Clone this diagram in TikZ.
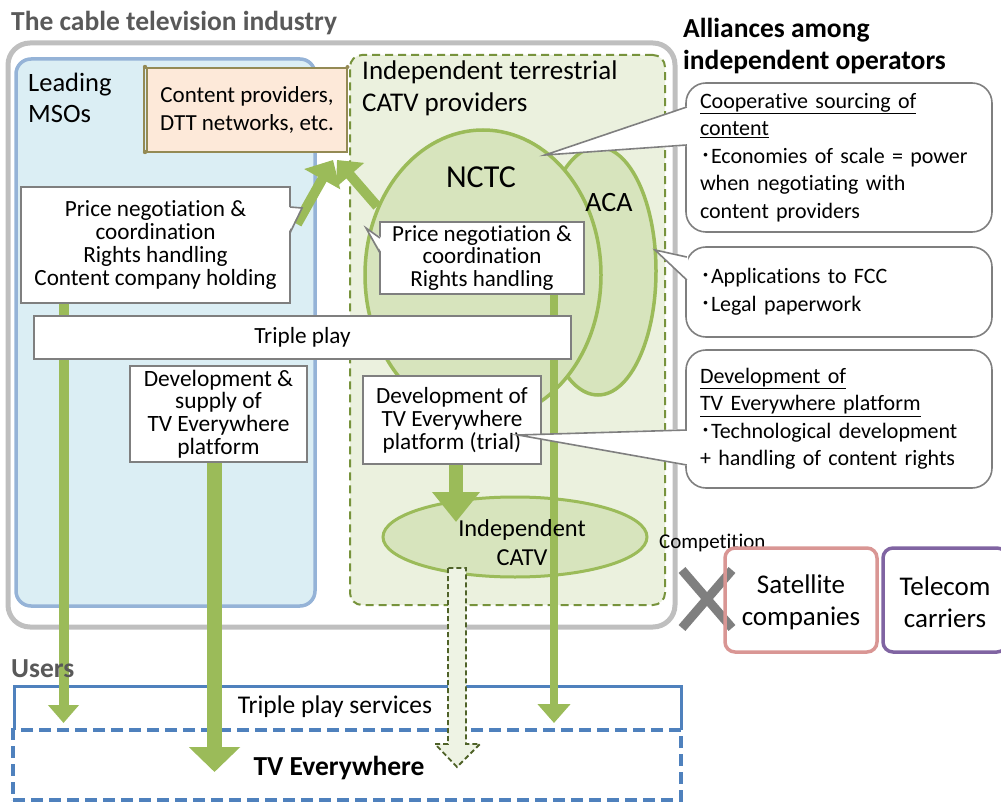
\documentclass[tikz,border=0pt]{standalone}
\usepackage{tikz}
\usepackage{fontspec}
\setmainfont{Carlito}[Ligatures=NoCommon]
\newfontfamily\cjkfont{Noto Sans CJK JP}
\usetikzlibrary{arrows.meta,shapes.geometric}
\newcommand{\setfs}[2]{\fontsize{#1}{#2}\selectfont}
\newcommand{\bdot}{{\cjkfont ･}}
\definecolor{outergray}{HTML}{BFBFBF}
\definecolor{msofill}{HTML}{DBEEF4}
\definecolor{msoborder}{HTML}{95B3D7}
\definecolor{indfill}{HTML}{EBF1DE}
\definecolor{indborder}{HTML}{77933C}
\definecolor{cpfill}{HTML}{FDE9D9}
\definecolor{cpborder}{HTML}{948A54}
\definecolor{gr}{HTML}{9BBB59}
\definecolor{nctcfill}{HTML}{D7E4BD}
\definecolor{boxgray}{HTML}{7F7F7F}
\definecolor{usersblue}{HTML}{4F81BD}
\definecolor{satborder}{HTML}{D99694}
\definecolor{telborder}{HTML}{8064A2}
\definecolor{titlegray}{HTML}{595959}
\definecolor{darkolive}{HTML}{4F6228}
\definecolor{hollowfill}{HTML}{EEF3E4}
\pgfdeclarelayer{bg}
\pgfdeclarelayer{arr}
\pgfsetlayers{bg,arr,main}
\begin{document}
\begin{tikzpicture}[x=1pt,y=-1pt,
  txt/.style={inner sep=0pt, align=center},
  wbox/.style={draw=boxgray, line width=1.6pt, fill=white, inner sep=0pt, align=center, font=\setfs{23.2}{23}},
  rcall/.style={draw=boxgray, line width=1.6pt, fill=white, rounded corners=20pt, inner xsep=14pt, inner ysep=0pt, text width=278pt, align=left, minimum width=306pt, font=\setfs{22}{27.5}},
  wedge/.style={draw=boxgray, line width=1.6pt, line join=miter},
  container/.style={inner sep=0pt},
  rivalbox/.style={line width=3.5pt, rounded corners=10pt, minimum width=#1, minimum height=104pt, inner sep=0pt},
  rivallab/.style={inner sep=0pt, align=center, font=\setfs{27}{32}},
]
\useasboundingbox (0,0) rectangle (1001,802);

% ---------- main layer: boxes and labels ----------
\node[txt, anchor=west, font=\setfs{27.5}{30}\bfseries, text=titlegray] (title) at (11,23) {The cable television industry};
\node[txt, anchor=west, align=left, font=\setfs{27.5}{32}\bfseries] (alli) at (683,46) {Alliances among\\independent operators};

\node[txt, anchor=west, align=left, font=\setfs{26.5}{31}] (msolab) at (28,97.5) {Leading\\MSOs};
\node[txt, anchor=west, align=left, font=\setfs{27}{32}] (indlab) at (362,88) {Independent terrestrial\\CATV providers};

\node[txt, font=\setfs{32}{32}] (nctclab) at (481,177) {NCTC};
\node[txt, font=\setfs{28}{28}] (acalab) at (609,203) {ACA};

% left callout
\node[wbox, minimum width=269pt, minimum height=116pt] (lcall) at (155.5,245) {Price negotiation \&\\coordination\\Rights handling\\Content company holding};
\fill[white] (288,207) -- (302,208) -- (288,233) -- cycle;
\draw[wedge] (290,207) -- (302,208) -- (290,233);

% NCTC callout
\node[wbox, minimum width=204pt, minimum height=72pt, font=\setfs{23}{22.5}] (ncall) at (482,258) {Price negotiation \&\\coordination\\Rights handling};
\fill[white] (382,238) -- (366,228) -- (382,253) -- cycle;
\draw[wedge] (380,238) -- (366,228) -- (380,253);

\node[wbox, minimum width=537pt, minimum height=43pt] (tp) at (302.5,337.5) {Triple play};
\node[wbox, minimum width=177pt, minimum height=96pt, font=\setfs{23.4}{22.6}] (dsup) at (218.5,414) {Development \&\\supply of\\TV Everywhere\\platform};
\node[wbox, minimum width=178pt, minimum height=88pt] (trial) at (452,420) {Development of\\TV Everywhere\\platform (trial)};

\node[txt, font=\setfs{24.4}{29}] (icatvlab) at (522,543) {Independent\\CATV};

% right callouts
\node[rcall, minimum height=149pt] (rc1) at (839,157.5) {\underline{Cooperative sourcing of}\\\underline{content}\\\bdot Economies of scale = power\\when negotiating with\\content providers};
\fill[white] (688,106) -- (545,155) -- (688,146) -- cycle;
\draw[wedge] (686.8,107) -- (545,155) -- (686.8,145);

\node[rcall, minimum height=90pt] (rc2) at (839,292) {\bdot Applications to FCC\\\bdot Legal paperwork};
\fill[white] (688,256) -- (655,250) -- (688,281) -- cycle;
\draw[wedge] (686.8,257) -- (655,250) -- (686.8,280);

\node[rcall, minimum height=138pt] (rc3) at (839,419) {\underline{Development of}\\\underline{TV Everywhere platform}\\\bdot Technological development\\+ handling of content rights};
\fill[white] (688,429) -- (518,435) -- (688,466) -- cycle;
\draw[wedge] (686.8,430) -- (518,435) -- (686.8,465);

% competition
\node[txt, anchor=west, font=\setfs{21}{21}] (comp) at (659,543) {Competition};
\draw[boxgray, line width=9pt] (682,570) -- (732,628) (732,570) -- (682,628);
\node[rivalbox=152pt, draw=satborder] (sat) at (801,600) {};
\node[rivallab] (satlab) at (801,602) {Satellite\\companies};
\node[rivalbox=124pt, draw=telborder] (tel) at (945,600) {};
\node[rivallab] (tellab) at (945,602) {Telecom\\carriers};

% users
\node[txt, anchor=west, font=\setfs{27.5}{27.5}\bfseries, text=titlegray] (users) at (11,669) {Users};
\node[txt, font=\setfs{25.5}{25.5}] (tpslab) at (335,707) {Triple play services};
\node[txt, font=\setfs{27.5}{27.5}\bfseries] (tvelab) at (339,768) {TV Everywhere};

% ---------- background layer ----------
\begin{pgfonlayer}{bg}
\node[container, draw=outergray, line width=5pt, rounded corners=22pt, minimum width=667pt, minimum height=584pt] (industry) at (341.5,335) {};
\node[container, draw=msoborder, fill=msofill, line width=3.5pt, rounded corners=15pt, minimum width=299pt, minimum height=547pt] (mso) at (165.5,332.5) {};
\node[container, draw=indborder, fill=indfill, line width=2pt, dash pattern=on 8pt off 5pt, rounded corners=12pt, minimum width=315pt, minimum height=550pt] (indep) at (507.5,330) {};
\node[container, draw=cpborder, fill=cpfill, line width=2pt, minimum width=200pt, minimum height=84pt, align=center, font=\setfs{23}{28}] (cp) at (247,110) {Content providers,\\DTT networks, etc.};
\draw[cpborder, line width=2pt] (143.5,67) -- (143.5,152);
\fill[cpborder] (145,67) circle (2.2pt) (145,152) circle (2.2pt) (347.5,67) circle (2pt);
\node[container, ellipse, draw=gr, fill=nctcfill, line width=3.5pt, minimum width=116pt, minimum height=248pt] (aca) at (598,271) {};
\node[container, ellipse, draw=gr, fill=nctcfill, line width=3.5pt, minimum width=236pt, minimum height=290pt] (nctc) at (483,275) {};
\node[container, ellipse, draw=gr, fill=nctcfill, line width=3pt, minimum width=264pt, minimum height=80pt] (icatv) at (515,537) {};
\node[container, minimum width=666pt, minimum height=43pt] (tps) at (348,708.5) {};
\draw[usersblue, line width=3pt] (tps.south west) -- (tps.north west) -- (tps.north east) -- (tps.south east);
\node[container, draw=usersblue, line width=3.5pt, dash pattern=on 12pt off 6pt, minimum width=668pt, minimum height=70pt] (tve) at (347,765) {};
\end{pgfonlayer}

% ---------- arrow layer ----------
\begin{pgfonlayer}{arr}
\coordinate (a1end) at (63.5,723);
\coordinate (a2end) at (214.5,772);
\coordinate (a3end) at (554,723);
\coordinate (a4end) at (456,522);
\coordinate (lstart) at (297,224);
\coordinate (cptipL) at (333,160);
\coordinate (cptipR) at (337,160);
\draw[gr, line width=10pt, -{Triangle[width=30pt,length=18pt]}] (lcall.south -| a1end) -- (a1end);
\draw[gr, line width=15pt, -{Triangle[width=50pt,length=25pt]}] (dsup.south -| a2end) -- (a2end);
\draw[gr, line width=8pt, -{Triangle[width=32pt,length=19pt]}] (ncall.south -| a3end) -- (a3end);
\draw[gr, line width=14pt, -{Triangle[width=46pt,length=30pt]}] (trial.south -| a4end) -- (a4end);
\draw[gr, line width=10pt, -{Triangle[width=40pt,length=22pt]}] (lstart) -- (cptipL);
\draw[gr, line width=10pt, -{Triangle[width=36pt,length=20pt]}] (nctc.147.5) -- (cptipR);
\draw[darkolive, line width=1.8pt, dash pattern=on 5pt off 3pt, fill=hollowfill] (448,568) -- (448,744) -- (435,744) -- (457,767) -- (480,744) -- (466,744) -- (466,568) -- cycle;
\end{pgfonlayer}
\end{tikzpicture}
\end{document}
